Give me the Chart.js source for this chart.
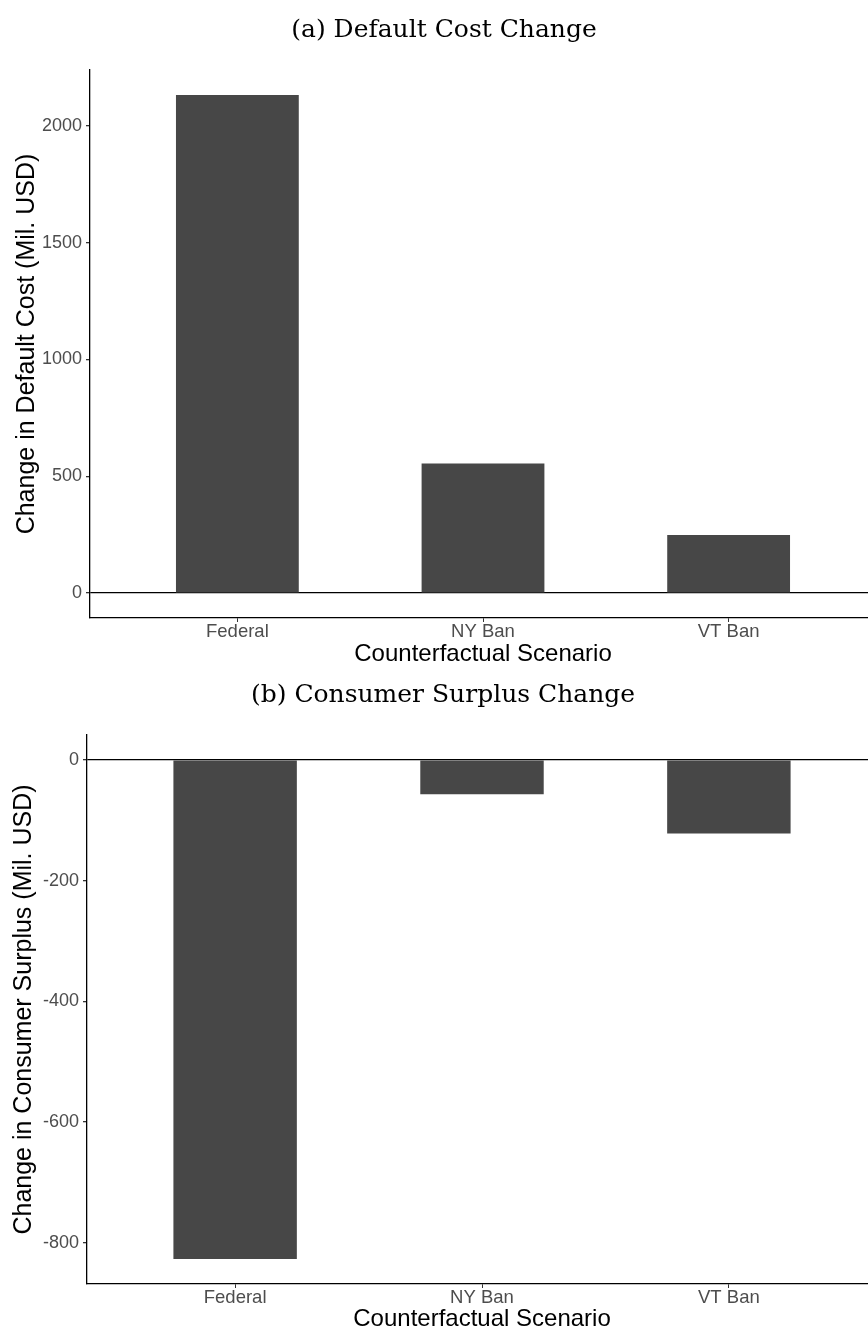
<!DOCTYPE html>
<html>
<head>
<meta charset="utf-8">
<script src="https://cdn.jsdelivr.net/npm/chart.js@4.4.1/dist/chart.umd.min.js"></script>
<style>
  html, body { margin: 0; padding: 0; background: #fff; overflow: hidden; }
  .wrap { position: absolute; left: 0; width: 868px; overflow: hidden; }
  #wrap-a { top: 0; height: 670px; }
  #wrap-b { top: 670px; height: 661px; }
</style>
</head>
<body>
<div class="wrap" id="wrap-a"><canvas id="chart-a" width="884" height="670"></canvas></div>
<div class="wrap" id="wrap-b"><canvas id="chart-b" width="884" height="666"></canvas></div>
<script>
const categories = ['Federal', 'NY Ban', 'VT Ban'];

const defaultCost = [2132, 555, 249];
const consumerSurplus = [-827, -57, -122];

const ticksA = [0, 500, 1000, 1500, 2000];
const ticksB = [-800, -600, -400, -200, 0];

Chart.defaults.font.family = "'Liberation Sans', Arial, sans-serif";
Chart.defaults.color = '#4d4d4d';

// ggplot style: 5% expansion on the value axis
function expanded(values) {
  const lo = Math.min(0, ...values);
  const hi = Math.max(0, ...values);
  const pad = (hi - lo) * 0.05;
  return { min: lo - pad, max: hi + pad };
}

function makeChart(id, title, yTitle, values, yTicks, lay) {
  const range = expanded(values);
  return new Chart(document.getElementById(id), {
    type: 'bar',
    data: {
      datasets: [{
        data: values.map((v, i) => ({ x: i + 1, y: v })),
        backgroundColor: '#474747',
        borderWidth: 0,
        barPercentage: 0.5,
        categoryPercentage: 1
      }]
    },
    options: {
      responsive: false,
      animation: false,
      layout: { padding: lay.padding },
      plugins: {
        legend: { display: false },
        tooltip: { enabled: false },
        title: {
          display: true,
          text: title,
          color: '#000',
          font: { family: "'DejaVu Serif', serif", size: 25, weight: 'normal' },
          padding: lay.titlePad
        }
      },
      scales: {
        x: {
          type: 'linear',
          min: 0.4,
          max: 3.6,
          offset: false,
          afterBuildTicks: s => { s.ticks = categories.map((c, i) => ({ value: i + 1 })); },
          afterFit: s => { s.height = lay.xHeight; },
          ticks: {
            callback: v => categories[v - 1],
            font: { size: 18.5, lineHeight: 1 },
            color: '#4d4d4d',
            padding: 1,
            maxRotation: 0
          },
          grid: {
            offset: false,
            drawOnChartArea: false,
            color: 'rgba(0,0,0,0)',
            tickColor: '#333',
            tickLength: 4
          },
          border: { display: true, color: '#000', width: 1.3 },
          title: {
            display: true,
            text: 'Counterfactual Scenario',
            color: '#000',
            font: { size: 24 },
            padding: 0
          }
        },
        y: {
          min: range.min,
          max: range.max,
          afterBuildTicks: s => { s.ticks = yTicks.map(v => ({ value: v })); },
          afterFit: s => { s.width = lay.yWidth; },
          ticks: {
            callback: v => String(v),
            font: { size: 18 },
            color: '#4d4d4d',
            padding: 4
          },
          grid: {
            color: ctx => (ctx.tick && ctx.tick.value === 0 ? '#000' : 'rgba(0,0,0,0)'),
            lineWidth: 1.3,
            tickColor: '#333',
            tickLength: 4
          },
          border: { display: true, color: '#000', width: 1.3 },
          title: {
            display: true,
            text: yTitle,
            color: '#000',
            font: { size: 25 },
            padding: 0
          }
        }
      }
    }
  });
}

makeChart('chart-a', '(a) Default Cost Change', 'Change in Default Cost (Mil. USD)',
  defaultCost, ticksA,
  { padding: { left: 12, right: 8, top: 0, bottom: 1 }, titlePad: { top: 15, bottom: 25 }, xHeight: 51, yWidth: 78 });

makeChart('chart-b', '(b) Consumer Surplus Change', 'Change in Consumer Surplus (Mil. USD)',
  consumerSurplus, ticksB,
  { padding: { left: 9, right: 7, top: 0, bottom: 2 }, titlePad: { top: 10, bottom: 25 }, xHeight: 50, yWidth: 78 });
</script>
</body>
</html>
